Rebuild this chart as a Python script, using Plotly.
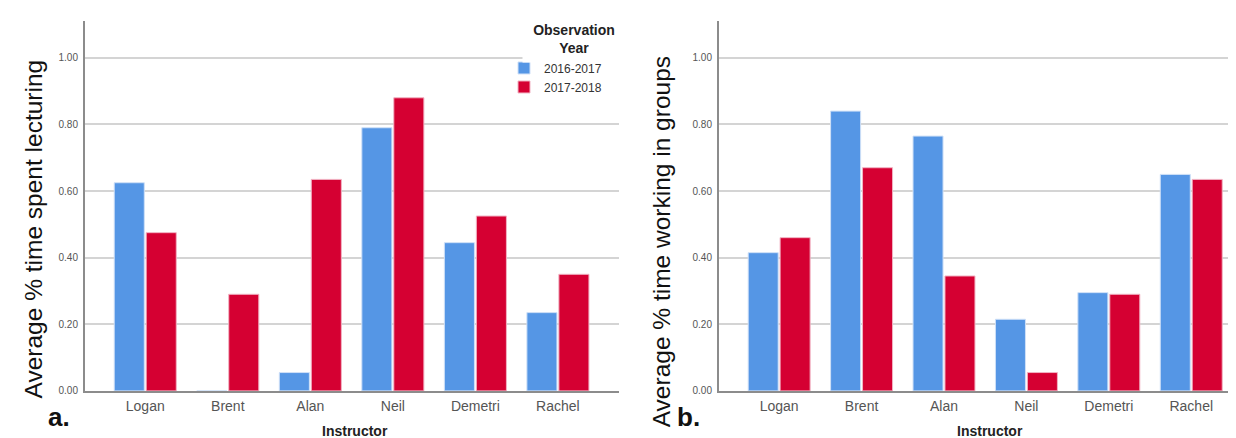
import plotly.graph_objects as go

instructors = ["Logan", "Brent", "Alan", "Neil", "Demetri", "Rachel"]
lect_2016 = [0.625, 0.0, 0.055, 0.79, 0.445, 0.235]
lect_2017 = [0.475, 0.29, 0.635, 0.88, 0.525, 0.35]
group_2016 = [0.415, 0.84, 0.765, 0.215, 0.295, 0.65]
group_2017 = [0.46, 0.67, 0.345, 0.055, 0.29, 0.635]
year_labels = ["2016-2017", "2017-2018"]
tick_vals = [0.0, 0.2, 0.4, 0.6, 0.8, 1.0]

BLUE = "#5596E5"
RED = "#D50032"
FONT = "Arial, Liberation Sans, sans-serif"

fig = go.Figure()
fig.add_trace(go.Bar(x=instructors, y=lect_2016, name=year_labels[0], marker=dict(color=BLUE, line=dict(color="#cfe0f7", width=1)), xaxis="x", yaxis="y"))
fig.add_trace(go.Bar(x=instructors, y=lect_2017, name=year_labels[1], marker=dict(color=RED, line=dict(color="#f1b3c3", width=1)), xaxis="x", yaxis="y"))
fig.add_trace(go.Bar(x=instructors, y=group_2016, name=year_labels[0], showlegend=False, marker=dict(color=BLUE, line=dict(color="#cfe0f7", width=1)), xaxis="x2", yaxis="y2"))
fig.add_trace(go.Bar(x=instructors, y=group_2017, name=year_labels[1], showlegend=False, marker=dict(color=RED, line=dict(color="#f1b3c3", width=1)), xaxis="x2", yaxis="y2"))

W, H = 1236, 438
ydom = [50.7 / H, 425 / H]
xcommon = dict(type="category", showgrid=False, showline=True, linecolor="#8c8c8c", linewidth=2,
               ticks="", tickfont=dict(size=14, color="#555555", family=FONT), ticklabelstandoff=1)
ycommon = dict(range=[0, 1.111], tickvals=tick_vals, tickformat=".2f", showgrid=True, gridcolor="#d4d4d4",
               gridwidth=2, showline=True, linecolor="#8c8c8c", linewidth=2, zeroline=False, ticks="",
               tickfont=dict(size=10, color="#555555", family=FONT), ticklabelstandoff=3, domain=ydom)

fig.update_layout(
    width=W, height=H, margin=dict(l=0, r=0, t=0, b=0),
    paper_bgcolor="white", plot_bgcolor="white",
    barmode="group", bargap=0.225, bargroupgap=0.06,
    font=dict(family=FONT),
    xaxis=dict(domain=[77 / W, 611 / W], range=[-0.73, 5.74], anchor="y", **xcommon),
    yaxis=dict(anchor="x", **ycommon),
    xaxis2=dict(domain=[711 / W, 1.0], range=[-0.73, 5.64], anchor="y2", **xcommon),
    yaxis2=dict(anchor="x2", **ycommon),
    legend=dict(x=496 / W, y=1 - 46 / H, xanchor="left", yanchor="top", bgcolor="rgba(0,0,0,0)",
                font=dict(size=12, color="#333333"), itemwidth=30, tracegroupgap=0),
    showlegend=True,
)

annots = [
    dict(text="Average % time spent lecturing", x=25 / W, y=(438 - 224) / H, textangle=-90, font=dict(size=24.5, color="#111111")),
    dict(text="Average % time working in groups", x=653 / W, y=(438 - 237) / H, textangle=-90, font=dict(size=24.5, color="#111111")),
    dict(text="<b>a.</b>", x=51 / W, y=(438 - 414) / H, font=dict(size=26, color="#111111")),
    dict(text="<b>b.</b>", x=680 / W, y=(438 - 414) / H, font=dict(size=26, color="#111111")),
    dict(text="<b>Instructor</b>", x=347 / W, y=(438 - 428) / H, font=dict(size=14, color="#222222")),
    dict(text="<b>Instructor</b>", x=982 / W, y=(438 - 428) / H, font=dict(size=14, color="#222222")),
]
for a in annots:
    fig.add_annotation(xref="paper", yref="paper", showarrow=False, xanchor="center", yanchor="middle", **a)

# legend title (white box interrupts the 1.00 gridline as in the reference)
fig.add_annotation(xref="paper", yref="paper", showarrow=False, xanchor="center", yanchor="middle",
                   x=566 / W, y=(438 - 31) / H, width=100, height=44, bgcolor="white", align="center",
                   text="<b>Observation<br>Year</b>", font=dict(size=14, color="#222222"))

fig.write_html("out.html")
